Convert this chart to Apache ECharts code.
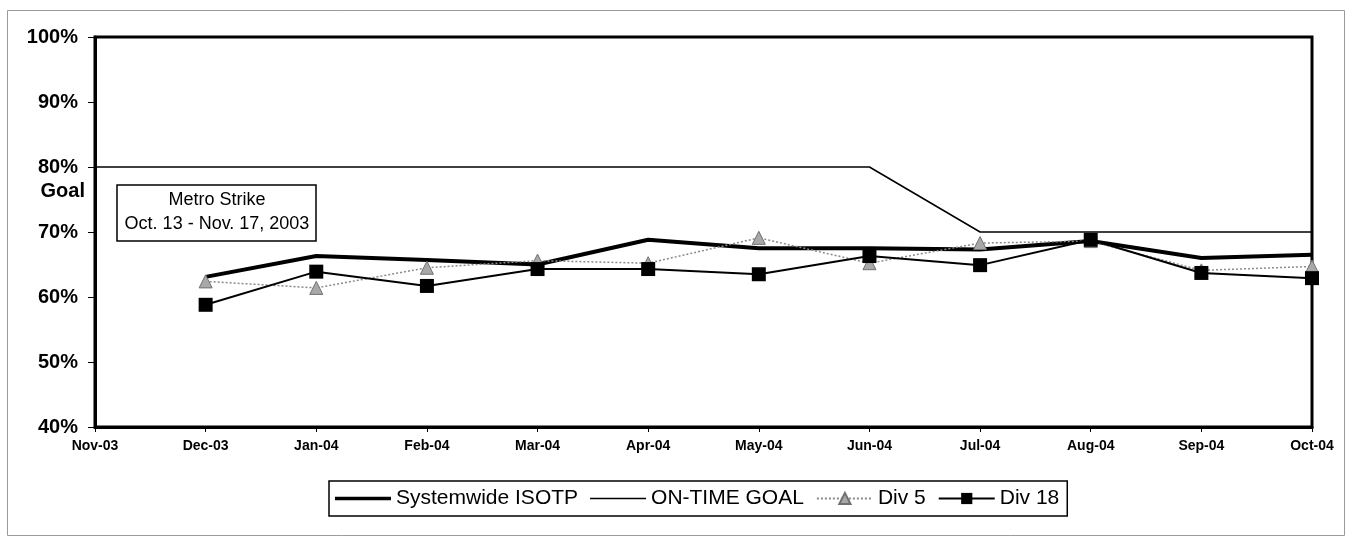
<!DOCTYPE html>
<html>
<head>
<meta charset="utf-8">
<script src="https://cdn.jsdelivr.net/npm/echarts@6/dist/echarts.min.js"></script>
<style>
  html, body { margin: 0; padding: 0; background: #fff; }
  #chart { width: 1346px; height: 538px; }
</style>
</head>
<body>
<div id="chart"></div>
<script>
// Monthly on-time performance, Nov 2003 - Oct 2004
const months = ['Nov-03', 'Dec-03', 'Jan-04', 'Feb-04', 'Mar-04', 'Apr-04', 'May-04', 'Jun-04', 'Jul-04', 'Aug-04', 'Sep-04', 'Oct-04'];
const systemwideIsotp = [null, 63.1, 66.3, 65.7, 65.0, 68.8, 67.5, 67.5, 67.3, 68.6, 66.0, 66.5];
const onTimeGoal      = [80, 80, 80, 80, 80, 80, 80, 80, 70, 70, 70, 70];
const div5            = [null, 62.4, 61.4, 64.5, 65.6, 65.2, 69.1, 65.2, 68.3, 68.6, 64.1, 64.7];
const div18           = [null, 58.8, 63.9, 61.7, 64.3, 64.3, 63.5, 66.3, 64.9, 68.8, 63.7, 62.9];
const yTicks = [40, 50, 60, 70, 80, 90, 100];

const FONT = '"Liberation Sans", Arial, sans-serif';
// legend icons for the plain-line series (thick and thin strokes, no marker)
const THICK_LINE_ICON = 'path://M0,0L0,0M0,5.2L56,5.2L56,8.8L0,8.8ZM56,14L56,14';
const THIN_LINE_ICON = 'path://M0,0L0,0M0,6.3L56,6.3L56,7.7L0,7.7ZM56,14L56,14';

const chart = echarts.init(document.getElementById('chart'));

chart.setOption({
  animation: false,
  backgroundColor: '#fff',
  grid: {
    left: 95, right: 34, top: 37, bottom: 111,
    show: true, borderColor: '#000', borderWidth: 3
  },
  xAxis: {
    type: 'category',
    data: months,
    boundaryGap: false,
    axisLine: { lineStyle: { color: '#000', width: 3 } },
    axisTick: { show: true, length: 5, lineStyle: { color: '#000', width: 1 } },
    axisLabel: {
      color: '#000', fontFamily: FONT, fontWeight: 'bold', fontSize: 14,
      margin: 12, interval: 0
    },
    splitLine: { show: false }
  },
  yAxis: {
    type: 'value',
    min: yTicks[0], max: yTicks[yTicks.length - 1], interval: 10,
    axisLine: { show: true, lineStyle: { color: '#000', width: 3 } },
    axisTick: { show: true, length: 7, lineStyle: { color: '#000', width: 1 } },
    axisLabel: {
      color: '#000', fontFamily: FONT, fontWeight: 'bold', fontSize: 20,
      margin: 17, formatter: '{value}%'
    },
    splitLine: { show: false }
  },
  legend: {
    left: 329, top: 481,
    padding: [7, 8, 7, 6],
    itemGap: 12,
    itemWidth: 56, itemHeight: 14,
    borderColor: '#000', borderWidth: 1.5,
    textStyle: { color: '#000', fontFamily: FONT, fontSize: 21 },
    data: [
      { name: 'Systemwide ISOTP', icon: THICK_LINE_ICON },
      { name: 'ON-TIME GOAL', icon: THIN_LINE_ICON },
      { name: 'Div 5' },
      { name: 'Div 18' }
    ]
  },
  series: [
    {
      name: 'Systemwide ISOTP', type: 'line', data: systemwideIsotp,
      symbol: 'none',
      lineStyle: { color: '#000', width: 4 },
      itemStyle: { color: '#000' }, z: 3
    },
    {
      name: 'ON-TIME GOAL', type: 'line', data: onTimeGoal,
      symbol: 'none',
      lineStyle: { color: '#000', width: 1.5 },
      itemStyle: { color: '#000' }, z: 2
    },
    {
      name: 'Div 5', type: 'line', data: div5,
      symbol: 'triangle', symbolSize: 13, showSymbol: true,
      lineStyle: { color: '#8a8a8a', width: 1.5, type: [2, 2] },
      itemStyle: { color: '#a8a8a8', borderColor: '#707070', borderWidth: 1 }, z: 4
    },
    {
      name: 'Div 18', type: 'line', data: div18,
      symbol: 'rect', symbolSize: 14, showSymbol: true,
      lineStyle: { color: '#000', width: 2 },
      itemStyle: { color: '#000' }, z: 5
    }
  ],
  graphic: [
    // outer chart frame
    {
      type: 'rect', z: 0, silent: true,
      shape: { x: 7.5, y: 10.5, width: 1337, height: 525 },
      style: { fill: 'none', stroke: '#9a9a9a', lineWidth: 1 }
    },
    // "Goal" marker under the 80% label
    {
      type: 'text', x: 85, y: 191,
      style: {
        text: 'Goal', font: 'bold 20px ' + FONT, fill: '#000',
        align: 'right', verticalAlign: 'middle'
      }
    },
    // strike annotation box
    {
      type: 'group', x: 117, y: 185,
      children: [
        {
          type: 'rect',
          shape: { x: 0, y: 0, width: 199, height: 56 },
          style: { fill: '#fff', stroke: '#000', lineWidth: 1.5 }
        },
        {
          type: 'text', x: 100, y: 15,
          style: {
            text: 'Metro Strike', font: '18px ' + FONT, fill: '#000',
            align: 'center', verticalAlign: 'middle'
          }
        },
        {
          type: 'text', x: 100, y: 39,
          style: {
            text: 'Oct. 13 - Nov. 17, 2003', font: '18px ' + FONT, fill: '#000',
            align: 'center', verticalAlign: 'middle'
          }
        }
      ]
    }
  ]
});
</script>
</body>
</html>
